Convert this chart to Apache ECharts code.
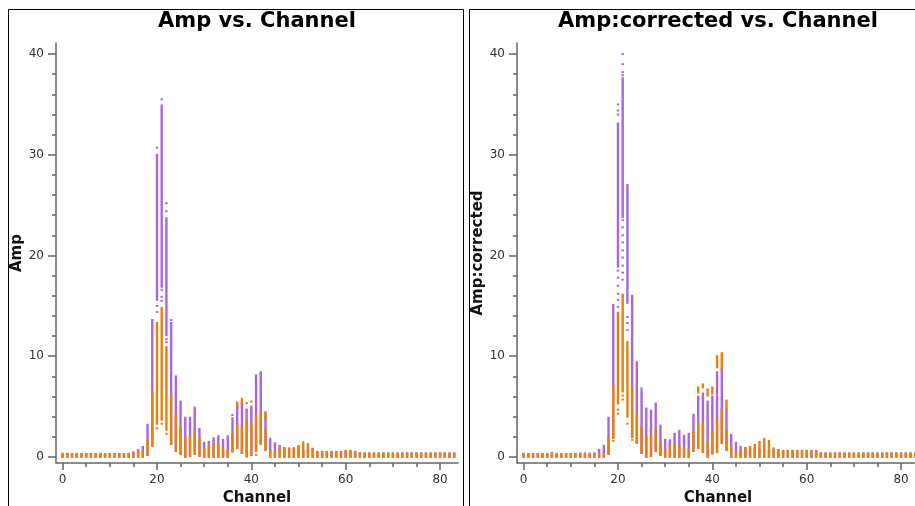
<!DOCTYPE html>
<html>
<head>
<meta charset="utf-8">
<script src="https://cdn.jsdelivr.net/npm/echarts@6/dist/echarts.min.js"></script>
<style>
html, body { margin: 0; padding: 0; background: #fff; }
#main { width: 915px; height: 506px; }
</style>
</head>
<body>
<div id="main"></div>
<script>
// tick values
var xMajor = [0, 20, 40, 60, 80];
var xMinor = [5, 10, 15, 25, 30, 35, 45, 50, 55, 65, 70, 75];
var yMajor = [0, 10, 20, 30, 40];
var yMinor = [2, 4, 6, 8, 12, 14, 16, 18, 22, 24, 26, 28, 32, 34, 36, 38];

// Amp vs. Channel, one value per channel (0..83)
var ampPurpleHi = [0.3, 0.3, 0.3, 0.3, 0.3, 0.3, 0.3, 0.3, 0.3, 0.3, 0.3, 0.3, 0.3, 0.3, 0.3,
    0.45, 0.7, 1.0, 3.2, 13.4, 30.0, 34.9, 23.7, 13.3, 8.0, 5.5, 3.9, 3.9, 4.9, 2.8,
    1.4, 1.5, 1.85, 2.05, 1.7, 2.05, 3.85, 5.15, 5.3, 4.7, 5.0, 8.1, 8.4, 4.3, 1.8,
    1.35, 1.1, 0.9, 0.85, 0.85, 1.0, 0.6, 0.7, 0.8,
    0.5, 0.5, 0.5, 0.5, 0.5, 0.5, 0.6, 0.6, 0.5,
    0.35, 0.35, 0.35, 0.35, 0.35, 0.35, 0.35, 0.35, 0.35, 0.35, 0.35,
    0.35, 0.35, 0.35, 0.35, 0.35, 0.35, 0.35, 0.35, 0.35, 0.35];
var ampPurpleLo = [0, 0, 0, 0, 0, 0, 0, 0, 0, 0, 0, 0, 0, 0, 0, 0, 0, 0,
    0.2, 1.1, 15.6, 16.9, 12.1, 1.3, 0.6, 0.3, 0, 0.1, 0.3, 0.1,
    0, 0, 0, 0, 0, 0, 0.55, 0.9, 0.4, 0.05, 0.2, 0.6, 1.3, 0.7,
    0, 0, 0, 0, 0, 0, 0, 0, 0, 0, 0, 0, 0, 0, 0, 0, 0, 0, 0, 0,
    0, 0, 0, 0, 0, 0, 0, 0, 0, 0, 0, 0, 0, 0, 0, 0, 0, 0, 0, 0];
var ampOrangeHi = [0.3, 0.3, 0.3, 0.3, 0.3, 0.3, 0.3, 0.3, 0.3, 0.3, 0.3, 0.3, 0.3, 0.3, 0.3,
    0.35, 0.55, 0.6, 1.7, 6.4, 13.3, 14.8, 10.9, 6.0, 4.2, 2.8, 1.9, 2.0, 2.5, 1.8,
    0.8, 1.1, 1.3, 1.2, 0.9, 0.7, 2.3, 3.1, 3.0, 3.7, 3.3, 4.1, 4.4, 2.7, 0.6,
    0.4, 0.9, 0.8, 0.8, 0.85, 1.1, 1.45, 1.3, 0.8,
    0.5, 0.5, 0.5, 0.5, 0.5, 0.5, 0.6, 0.6, 0.5,
    0.35, 0.35, 0.35, 0.35, 0.35, 0.35, 0.35, 0.35, 0.35, 0.35, 0.35,
    0.35, 0.35, 0.35, 0.35, 0.35, 0.35, 0.35, 0.35, 0.35, 0.35];
var ampOrangeLo = [0, 0, 0, 0, 0, 0, 0, 0, 0, 0, 0, 0, 0, 0, 0, 0, 0, 0,
    0.2, 1.1, 3.3, 3.7, 2.7, 1.3, 0.6, 0.3, 0, 0.1, 0.3, 0.1,
    0, 0, 0, 0, 0, 0, 0.55, 0.9, 0.4, 0.05, 0.2, 0.6, 1.3, 0.7,
    0, 0, 0, 0, 0, 0, 0, 0, 0, 0, 0, 0, 0, 0, 0, 0, 0, 0, 0, 0,
    0, 0, 0, 0, 0, 0, 0, 0, 0, 0, 0, 0, 0, 0, 0, 0, 0, 0, 0, 0];
// [channel, lo, hi] pieces and [channel, value] loose points
var ampOrangeExtra = [[37, 5.1, 5.4], [38, 5.3, 5.75], [43, 3.85, 4.45]];
var ampPurpleDots = [[19, 13.6], [20, 30.7], [21, 35.5], [22, 25.2], [22, 24.4], [20, 15.0], [20, 14.4],
    [21, 16.6], [21, 15.9], [21, 15.5], [22, 11.7], [22, 11.4], [23, 13.6], [36, 4.17]];
var ampOrangeDots = [[20, 2.85], [21, 3.3], [22, 2.3], [39, 5.35], [40, 5.5], [42, 8.2], [41, 0.2]];

// Amp:corrected vs. Channel
var corPurpleHi = [0.3, 0.3, 0.3, 0.3, 0.3, 0.3, 0.4, 0.3, 0.3, 0.3, 0.3, 0.3, 0.35, 0.35, 0.35, 0.35,
    0.7, 1.1, 3.9, 15.1, 33.1, 37.6, 27.0, 16.0, 9.4, 6.6, 4.8, 4.6, 5.3, 3.1,
    1.7, 1.65, 2.3, 2.6, 2.1, 2.3, 4.2, 6.0, 6.3, 5.5, 6.0, 8.4, 8.8, 4.8, 2.2,
    1.4, 1.0, 0.9, 0.8, 0.8, 0.7, 0.7, 0.6, 0.7, 0.65,
    0.6, 0.6, 0.6, 0.6, 0.6, 0.6, 0.6, 0.6,
    0.35, 0.35, 0.35, 0.35, 0.35, 0.35, 0.35, 0.35, 0.35, 0.35, 0.35,
    0.35, 0.35, 0.35, 0.35, 0.35, 0.35, 0.35, 0.35, 0.35, 0.35];
var corPurpleLo = [0, 0, 0, 0, 0, 0, 0, 0, 0, 0, 0, 0, 0, 0, 0, 0, 0, 0,
    0.3, 1.9, 18.9, 23.8, 15.3, 2.0, 1.4, 0.4, 0, 0.1, 0.6, 0.2,
    0, 0, 0, 0, 0, 0, 0.6, 0.9, 0.5, 0, 0.35, 0.5, 1.4, 0.7,
    0, 0, 0, 0, 0, 0, 0, 0, 0, 0, 0, 0, 0, 0, 0, 0, 0, 0, 0, 0,
    0, 0, 0, 0, 0, 0, 0, 0, 0, 0, 0, 0, 0, 0, 0, 0, 0, 0, 0, 0];
var corOrangeHi = [0.3, 0.3, 0.3, 0.3, 0.3, 0.3, 0.3, 0.3, 0.3, 0.3, 0.3, 0.3, 0.3, 0.3, 0.3, 0.3,
    0.3, 0.3, 1.9, 7.0, 14.3, 16.1, 11.4, 6.8, 4.3, 3.0, 2.0, 2.0, 2.8, 1.4,
    0.7, 1.1, 1.3, 1.1, 0.9, 0.7, 2.4, 3.4, 3.3, 1.35, 2.5, 3.7, 4.7, 2.6, 1.0,
    0.4, 0.6, 0.8, 1.0, 1.2, 1.5, 1.8, 1.6, 0.85, 0.7,
    0.6, 0.6, 0.6, 0.6, 0.6, 0.6, 0.6, 0.6,
    0.35, 0.35, 0.35, 0.35, 0.35, 0.35, 0.35, 0.35, 0.35, 0.35, 0.35,
    0.35, 0.35, 0.35, 0.35, 0.35, 0.35, 0.35, 0.35, 0.35, 0.35];
var corOrangeLo = [0, 0, 0, 0, 0, 0, 0, 0, 0, 0, 0, 0, 0, 0, 0, 0, 0, 0,
    0.3, 1.9, 5.3, 6.5, 4.0, 2.0, 1.4, 0.4, 0, 0.1, 0.6, 0.2,
    0, 0, 0, 0, 0, 0, 0.6, 0.9, 0.5, 0, 0.35, 0.5, 1.4, 0.7,
    0, 0, 0, 0, 0, 0, 0, 0, 0, 0, 0, 0, 0, 0, 0, 0, 0, 0, 0, 0,
    0, 0, 0, 0, 0, 0, 0, 0, 0, 0, 0, 0, 0, 0, 0, 0, 0, 0, 0, 0];
var corOrangeExtra = [[37, 6.4, 6.9], [38, 6.9, 7.2], [39, 6.1, 6.7], [40, 6.3, 6.9],
    [41, 8.9, 10.0], [42, 8.8, 10.3], [43, 4.9, 5.6]];
var corPurpleDots = [[20, 35.0], [20, 34.4], [20, 34.0], [21, 40.0], [21, 39.0], [21, 38.2], [21, 37.9],
    [20, 18.5], [20, 17.8], [20, 17.0], [20, 16.2], [20, 15.6], [20, 14.9],
    [21, 23.5], [21, 22.8], [21, 22.0], [21, 21.3], [21, 20.5], [21, 19.8], [21, 19.0], [21, 18.3], [21, 17.6],
    [22, 13.9], [22, 13.3], [22, 12.6], [25, 6.8]];
var corOrangeDots = [[19, 1.6], [20, 4.7], [20, 4.3], [21, 6.1], [21, 5.7], [22, 3.3], [23, 1.7]];

var PURPLE = '#aa66dd';
var ORANGE = '#e8800e';
var FONT = '"DejaVu Sans", sans-serif';
var AXIS = '#666';

var myChart = echarts.init(document.getElementById('main'), null, { renderer: 'canvas' });

// lo/hi arrays -> [channel, lo, hi]
function toRanges(lo, hi) {
    var out = [];
    for (var i = 0; i < hi.length; i++) out.push([i, lo[i], hi[i]]);
    return out;
}

// one vertical strip of points for a channel
function rangeBar(params, api) {
    var top = api.coord([api.value(0), api.value(2)]);
    var bot = api.coord([api.value(0), api.value(1)]);
    return {
        type: 'rect',
        shape: { x: top[0] - 1.2, y: top[1] - 1, width: 2.4, height: bot[1] - top[1] + 2 },
        style: { fill: api.visual('color') }
    };
}

function rangeSeries(gi, data, color) {
    return {
        type: 'custom', xAxisIndex: gi * 2, yAxisIndex: gi * 2,
        renderItem: rangeBar, encode: { x: 0, y: [1, 2] },
        itemStyle: { color: color }, data: data, silent: true
    };
}
function dotSeries(gi, data, color) {
    return {
        type: 'scatter', xAxisIndex: gi * 2, yAxisIndex: gi * 2,
        symbol: 'rect', symbolSize: [2.4, 2], itemStyle: { color: color, opacity: 1 },
        data: data, silent: true
    };
}

function xAxes(gi) {
    return [{
        type: 'value', gridIndex: gi, position: 'bottom', min: -1.4, max: 83.8,
        name: 'Channel', nameLocation: 'middle', nameGap: 27,
        nameTextStyle: { fontFamily: FONT, fontWeight: 'bold', fontSize: 15, color: '#111' },
        axisLine: { show: true, onZero: false, lineStyle: { color: AXIS, width: 1.5 } },
        axisTick: { show: true, length: 7, customValues: xMajor, lineStyle: { color: AXIS, width: 1.5 } },
        axisLabel: { customValues: xMajor, margin: 11, color: '#333', fontSize: 12, fontFamily: FONT },
        splitLine: { show: false }
    }, {
        type: 'value', gridIndex: gi, position: 'bottom', min: -1.4, max: 83.8,
        axisLine: { show: false, onZero: false },
        axisTick: { show: true, length: 4, customValues: xMinor, lineStyle: { color: AXIS, width: 1.5 } },
        axisLabel: { show: false }, splitLine: { show: false }
    }];
}
function yAxes(gi, name) {
    return [{
        type: 'value', gridIndex: gi, position: 'left', min: -0.6, max: 41.1,
        name: name, nameLocation: 'middle', nameGap: 31,
        nameTextStyle: { fontFamily: FONT, fontWeight: 'bold', fontSize: 15, color: '#111' },
        axisLine: { show: true, onZero: false, lineStyle: { color: AXIS, width: 1.5 } },
        axisTick: { show: true, length: 8, customValues: yMajor, lineStyle: { color: AXIS, width: 1.5 } },
        axisLabel: { customValues: yMajor, margin: 12, color: '#333', fontSize: 12, fontFamily: FONT },
        splitLine: { show: false }
    }, {
        type: 'value', gridIndex: gi, position: 'left', min: -0.6, max: 41.1,
        axisLine: { show: false, onZero: false },
        axisTick: { show: true, length: 4, customValues: yMinor, lineStyle: { color: AXIS, width: 1.5 } },
        axisLabel: { show: false }, splitLine: { show: false }
    }];
}

var option = {
    animation: false,
    backgroundColor: '#fff',
    title: [
        { text: 'Amp vs. Channel', left: 257, top: 11, textAlign: 'center', padding: 0,
          textStyle: { fontFamily: FONT, fontWeight: 'bold', fontSize: 21, color: '#000' } },
        { text: 'Amp:corrected vs. Channel', left: 718, top: 11, textAlign: 'center', padding: 0,
          textStyle: { fontFamily: FONT, fontWeight: 'bold', fontSize: 21, color: '#000' } }
    ],
    graphic: [
        { type: 'rect', shape: { x: 8.5, y: 9.5, width: 455, height: 520 },
          style: { fill: null, stroke: '#000', lineWidth: 1 }, silent: true },
        { type: 'rect', shape: { x: 469.5, y: 9.5, width: 470, height: 520 },
          style: { fill: null, stroke: '#000', lineWidth: 1 }, silent: true }
    ],
    grid: [
        { left: 56, top: 43, width: 402, height: 420, containLabel: false, outerBoundsMode: 'none' },
        { left: 517, top: 43, width: 402, height: 420, containLabel: false, outerBoundsMode: 'none' }
    ],
    xAxis: xAxes(0).concat(xAxes(1)),
    yAxis: yAxes(0, 'Amp').concat(yAxes(1, 'Amp:corrected')),
    series: [
        rangeSeries(0, toRanges(ampPurpleLo, ampPurpleHi), PURPLE),
        dotSeries(0, ampPurpleDots, PURPLE),
        rangeSeries(0, toRanges(ampOrangeLo, ampOrangeHi), ORANGE),
        rangeSeries(0, ampOrangeExtra, ORANGE),
        dotSeries(0, ampOrangeDots, ORANGE),
        rangeSeries(1, toRanges(corPurpleLo, corPurpleHi), PURPLE),
        dotSeries(1, corPurpleDots, PURPLE),
        rangeSeries(1, toRanges(corOrangeLo, corOrangeHi), ORANGE),
        rangeSeries(1, corOrangeExtra, ORANGE),
        dotSeries(1, corOrangeDots, ORANGE)
    ]
};

myChart.setOption(option);
</script>
</body>
</html>
